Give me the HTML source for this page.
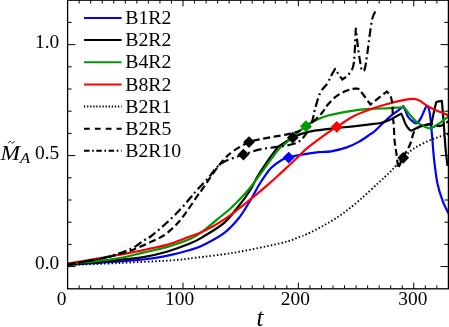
<!DOCTYPE html>
<html><head><meta charset="utf-8"><title>plot</title>
<style>html,body{margin:0;padding:0;background:#fff}svg{display:block}.sf{font-family:"Liberation Serif",serif}</style>
</head><body>
<svg width="449" height="327" viewBox="0 0 449 327">
<defs><filter id="g" x="0" y="0" width="449" height="327" filterUnits="userSpaceOnUse" color-interpolation-filters="sRGB"><feOffset dx="0" dy="0"/></filter></defs>
<rect width="449" height="327" fill="#fff"/>
<clipPath id="c"><rect x="67.6" y="0.2" width="380.8" height="288.6"/></clipPath>
<g clip-path="url(#c)" fill="none" stroke-width="2.20" stroke-linejoin="round">
<path d="M67.6 264.9C72.8 264.5 90.3 263.4 99.0 262.8C107.7 262.2 112.6 262.1 120.0 261.5C127.4 260.9 135.6 260.4 143.4 259.5C151.2 258.6 159.0 257.5 166.8 255.9C174.6 254.3 184.0 251.8 190.0 250.0C196.0 248.2 197.3 248.1 203.0 245.2C208.7 242.3 218.5 237.3 224.4 232.8C230.3 228.3 234.5 223.5 238.7 218.3C242.9 213.1 245.9 207.7 249.5 201.8C253.1 195.9 256.6 188.7 260.2 183.0C263.8 177.3 267.4 171.7 271.0 167.9C274.6 164.1 278.7 161.8 281.7 160.0C284.7 158.2 285.3 158.1 288.9 157.2C292.5 156.2 298.2 155.1 303.2 154.3C308.2 153.5 314.0 152.7 318.7 152.2C323.4 151.7 326.5 152.1 331.2 151.3C335.9 150.5 342.1 149.0 346.8 147.4C351.5 145.8 355.3 143.8 359.2 141.6C363.1 139.4 367.4 136.2 370.0 134.4C372.6 132.6 371.9 133.7 374.9 131.0C377.9 128.3 383.9 122.0 387.8 118.5C391.7 115.0 395.8 112.3 398.4 110.3C401.0 108.2 401.7 107.6 403.3 106.2C404.0 107.7 404.7 109.0 405.5 110.8C406.3 112.6 407.0 115.2 408.2 117.0C409.4 118.8 411.5 120.5 412.9 121.5C414.3 122.5 415.5 123.7 416.8 123.2C418.1 122.7 419.3 120.9 420.6 118.6C421.9 116.3 423.7 111.7 424.8 109.5C425.9 107.3 426.3 105.4 427.0 105.5C427.7 105.6 428.6 107.8 429.2 110.2C429.8 112.7 430.2 116.1 430.7 120.2C431.2 124.3 431.4 128.6 432.0 135.0C432.6 141.4 433.1 150.5 434.0 158.6C434.9 166.7 436.0 176.5 437.5 183.7C439.0 190.9 441.0 196.5 442.9 201.6C444.8 206.7 448.0 212.0 449.0 214.1" stroke="#0000ff"/>
<path d="M67.6 264.6C72.8 264.1 90.3 262.6 99.0 261.8C107.7 261.0 112.6 260.6 120.0 259.8C127.4 259.0 135.6 258.5 143.4 257.1C151.2 255.8 159.0 253.9 166.8 251.7C174.6 249.4 184.0 246.1 190.0 243.6C196.0 241.1 197.3 240.4 203.0 236.9C208.7 233.4 218.5 227.8 224.4 222.6C230.3 217.4 234.4 211.3 238.7 206.0C243.0 200.7 247.0 195.2 250.0 190.5C253.0 185.8 254.1 182.4 256.6 178.0C259.2 173.6 262.1 169.0 265.3 164.3C268.5 159.6 273.3 153.1 275.7 150.0C278.1 146.9 276.7 148.1 279.5 146.0C282.3 143.9 288.7 139.8 292.7 137.6C296.7 135.4 300.0 134.2 303.7 133.1C307.4 131.9 310.4 131.4 314.6 130.7C318.8 130.0 322.5 129.5 329.0 128.8C335.5 128.1 346.7 127.0 353.5 126.3C360.3 125.5 365.5 124.8 370.0 124.3C374.5 123.8 377.3 123.8 380.6 123.0C383.9 122.2 387.4 120.9 390.0 119.8C392.6 118.7 394.1 117.5 396.0 116.5C397.9 115.5 399.5 114.6 401.2 113.6C401.9 115.1 402.5 116.3 403.2 118.0C403.9 119.7 404.6 122.2 405.5 124.0C406.4 125.8 407.5 127.4 408.5 128.5C409.5 129.6 409.9 130.8 411.5 130.6C413.1 130.4 415.7 128.2 418.0 127.3C420.3 126.4 423.1 125.6 425.2 125.1C427.3 124.6 429.4 124.8 430.5 124.3C431.6 123.8 431.2 124.4 431.8 122.0C432.4 119.6 433.6 113.3 434.3 110.0C435.1 106.7 435.6 104.7 436.3 102.0C438.2 101.6 440.0 101.3 441.9 100.9C442.2 104.6 442.5 108.0 442.8 112.0C443.1 116.0 443.4 119.0 443.9 125.0C444.3 131.0 444.9 141.2 445.5 148.0C446.1 154.8 447.2 163.0 447.5 166.0" stroke="#000"/>
<path d="M67.6 264.2C72.8 263.6 90.3 261.8 99.0 260.8C107.7 259.8 112.6 259.4 120.0 258.0C127.4 256.6 135.6 254.4 143.4 252.6C151.2 250.8 159.0 249.3 166.8 247.1C174.6 244.8 183.9 241.8 190.0 239.1C196.1 236.4 199.0 233.9 203.5 230.7C208.0 227.4 212.4 223.3 216.9 219.6C221.4 215.9 225.9 212.6 230.4 208.5C234.9 204.4 240.0 199.1 243.8 195.0C247.6 190.9 249.2 189.1 253.1 184.0C257.0 178.9 263.2 170.0 267.4 164.3C271.6 158.6 275.2 153.4 278.1 150.0C281.0 146.6 280.4 148.0 285.0 144.0C289.6 140.0 300.5 130.2 305.7 126.2C310.9 122.2 312.2 122.0 316.1 120.2C320.0 118.4 322.8 116.9 329.0 115.3C335.2 113.7 346.7 111.7 353.5 110.6C360.3 109.5 363.9 109.3 370.0 108.9C376.1 108.5 384.8 108.5 390.0 108.2C395.2 107.9 399.1 107.3 401.5 107.3C403.9 107.2 403.1 106.7 404.5 107.9C405.9 109.2 407.7 112.4 409.9 114.8C412.1 117.2 414.9 120.5 417.5 122.5C420.1 124.5 423.0 126.0 425.2 127.0C427.4 128.0 428.5 128.7 430.5 128.3C432.5 127.9 435.2 126.2 437.4 124.8C439.6 123.4 441.6 121.6 443.5 120.2C445.4 118.8 448.1 117.0 449.0 116.3" stroke="#009a00"/>
<path d="M67.6 263.5C72.8 262.6 91.4 259.7 99.0 258.4C106.6 257.1 109.9 256.2 113.4 255.6C116.9 255.0 116.9 255.1 120.0 254.6C123.1 254.1 127.9 253.2 131.8 252.5C135.7 251.8 140.4 250.8 143.4 250.2C146.4 249.5 146.1 249.5 150.0 248.6C153.9 247.7 160.1 246.9 166.8 244.9C173.5 242.9 184.0 238.7 190.0 236.5C196.0 234.3 197.3 234.4 203.0 231.6C208.7 228.8 217.2 224.2 224.4 219.4C231.6 214.7 238.7 208.8 245.9 203.1C253.1 197.4 262.1 189.8 267.4 185.2C272.7 180.6 274.3 179.1 277.9 175.8C281.5 172.5 285.4 168.8 288.9 165.5C292.4 162.2 296.3 158.6 299.0 156.0C301.7 153.4 302.4 152.3 305.0 150.0C307.6 147.7 310.4 145.5 314.6 142.4C318.8 139.3 326.3 133.8 330.0 131.2C333.7 128.6 332.9 129.4 336.8 126.9C340.7 124.4 347.9 119.2 353.5 116.2C359.1 113.2 364.5 111.4 370.6 109.2C376.7 107.0 384.7 104.7 390.0 103.2C395.3 101.7 398.4 101.0 402.2 100.3C406.0 99.6 410.1 98.8 412.9 98.8C415.7 98.8 416.4 99.0 419.0 100.3C421.6 101.6 425.4 104.8 428.2 106.4C431.0 108.1 433.3 109.1 435.9 110.2C438.4 111.3 441.3 112.4 443.5 113.3C445.7 114.2 448.1 115.2 449.0 115.6" stroke="#ff0000"/>
<path d="M67.6 265.0C76.3 264.7 102.6 263.8 120.0 263.0C137.4 262.2 159.4 261.2 172.0 260.3C184.6 259.4 185.9 258.9 195.8 257.7C205.7 256.5 219.7 255.0 231.6 253.1C243.5 251.2 257.8 248.1 267.4 246.1C277.0 244.1 283.6 242.6 289.0 241.0C294.4 239.4 297.0 237.7 300.0 236.6C303.0 235.5 302.8 236.1 306.9 234.2C311.0 232.2 318.8 228.3 324.8 224.9C330.8 221.5 336.7 217.9 342.7 213.6C348.7 209.3 354.6 204.3 360.6 199.2C366.6 194.1 373.7 187.2 378.5 182.8C383.3 178.4 386.3 175.7 389.3 172.8C392.3 169.9 394.1 167.7 396.4 165.2C398.7 162.7 400.2 160.6 403.2 157.8C406.2 155.0 409.5 151.4 414.3 148.3C419.1 145.2 426.4 141.7 432.2 139.3C438.0 136.9 446.2 134.7 449.0 133.8" stroke="#000" stroke-dasharray="1.45 2.2" stroke-width="1.90"/>
<path d="M67.6 264.5C72.8 263.6 91.4 260.4 99.0 259.0C106.6 257.6 107.9 257.3 113.4 255.8C118.9 254.3 125.7 252.4 131.8 250.2C137.9 247.9 145.3 244.4 150.0 242.3C154.7 240.2 157.1 239.2 160.0 237.6C162.9 236.0 164.2 235.5 167.2 233.0C170.2 230.5 174.7 226.5 178.2 222.6C181.7 218.7 184.8 214.1 188.0 209.7C191.2 205.3 194.8 199.6 197.2 196.2C199.5 192.8 200.2 192.2 202.1 189.5C204.0 186.8 205.7 184.1 208.4 180.2C211.1 176.3 215.7 169.7 218.5 166.0C221.3 162.3 223.0 160.3 225.5 157.8C228.0 155.3 229.4 153.6 233.3 151.0C237.2 148.4 244.0 144.2 249.0 142.1C254.0 140.0 258.7 139.6 263.1 138.7C267.5 137.8 271.4 137.2 275.6 136.4C279.8 135.6 284.2 135.0 288.1 134.1C292.0 133.2 295.1 132.8 299.0 131.0C302.9 129.2 308.0 125.5 311.4 123.0C314.8 120.5 317.2 118.0 319.2 116.0C321.2 114.0 322.0 112.8 323.4 111.0C324.8 109.2 325.2 107.6 327.3 105.2C329.4 102.8 332.9 98.9 335.9 96.6C338.9 94.3 342.3 92.5 345.2 91.2C348.1 89.9 350.8 89.2 353.0 88.8C355.2 88.4 356.7 88.8 358.5 88.8C359.8 90.4 360.4 90.9 362.4 93.5C364.4 96.1 367.8 100.8 370.5 104.5C373.0 102.5 375.4 100.6 378.1 98.4C380.8 96.2 383.9 93.8 386.8 91.5C388.0 93.0 389.6 93.9 390.5 96.0C391.4 98.1 391.9 100.6 392.3 104.0C392.7 107.4 392.6 112.6 392.8 116.2C393.1 119.8 393.5 121.5 393.8 125.5C394.1 129.5 394.1 135.5 394.5 140.2C394.9 144.9 395.8 149.0 396.4 153.7C397.0 158.4 397.6 163.6 398.2 168.5C399.8 164.8 401.0 161.5 403.0 157.5C405.0 153.5 408.2 148.8 410.0 144.5C411.8 140.2 412.5 134.9 414.0 132.0C415.5 129.1 417.2 128.2 419.0 127.0C420.8 125.8 422.8 125.5 425.0 125.0C427.2 124.5 429.5 123.8 432.0 124.0C434.5 124.2 437.2 126.5 440.0 126.0C442.8 125.5 447.5 121.8 449.0 121.0" stroke="#000" stroke-dasharray="7 3.6"/>
<path d="M67.6 264.5C72.8 263.6 91.4 260.3 99.0 258.8C106.6 257.3 107.9 257.0 113.4 255.3C118.9 253.6 126.8 251.0 131.8 248.6C136.8 246.2 140.4 242.7 143.4 240.8C146.4 238.9 148.1 238.3 150.0 237.0C151.9 235.7 151.8 235.6 154.9 233.0C158.0 230.4 164.1 225.3 168.4 221.3C172.7 217.3 176.7 213.3 180.6 209.1C184.5 204.9 188.9 199.5 191.7 196.2C194.5 192.9 194.7 192.6 197.5 189.5C200.3 186.4 205.3 181.4 208.4 177.8C211.5 174.2 213.2 170.8 216.0 168.0C218.8 165.2 222.1 162.8 225.5 161.0C228.9 159.2 233.4 158.1 236.4 157.0C239.4 155.9 239.6 155.9 243.5 154.6C247.4 153.3 254.7 150.7 260.0 149.4C265.4 148.2 270.9 147.8 275.6 147.1C280.3 146.4 284.5 146.0 288.1 145.2C291.7 144.4 294.8 143.8 297.4 142.4C300.0 141.0 301.9 139.1 303.7 137.0C305.5 134.9 306.8 132.8 308.3 130.0C309.8 127.2 311.4 123.5 312.5 120.0C313.6 116.5 313.7 113.5 315.0 109.0C316.3 104.5 318.2 97.0 320.3 92.7C322.4 88.4 325.5 86.3 327.3 83.4C329.1 80.5 330.0 77.9 331.3 75.5C332.6 73.1 333.8 71.0 335.1 68.8C336.4 70.9 337.9 73.3 339.1 75.1C340.3 76.9 341.3 78.0 342.4 79.5C344.4 77.9 346.5 76.9 348.3 74.8C350.1 72.7 352.0 70.3 353.0 67.0C354.0 63.7 354.0 61.4 354.5 55.0C355.0 48.6 355.4 37.4 355.8 28.6C356.7 36.2 357.5 44.3 358.5 51.3C359.5 58.3 360.6 64.2 361.6 70.6C362.6 70.1 363.7 72.4 364.7 69.2C365.7 66.0 366.4 59.5 367.6 51.3C368.8 43.1 370.5 27.1 372.0 20.1C373.5 13.1 375.8 11.2 376.5 9.4" stroke="#000" stroke-dasharray="8.5 3.4 1.9 3.5"/>
</g>
<path d="M243.4 148.7L249.3 154.6L243.4 160.5L237.5 154.6Z" fill="#000"/>
<path d="M249.0 136.2L254.9 142.1L249.0 148.0L243.1 142.1Z" fill="#000"/>
<path d="M292.7 131.8L298.6 137.7L292.7 143.6L286.8 137.7Z" fill="#000"/>
<path d="M403.2 151.9L409.1 157.8L403.2 163.7L397.3 157.8Z" fill="#000"/>
<path d="M288.7 151.7L294.6 157.6L288.7 163.5L282.8 157.6Z" fill="#0000ff"/>
<path d="M305.9 120.3L311.8 126.2L305.9 132.1L300.0 126.2Z" fill="#009a00"/>
<path d="M336.8 120.9L342.7 126.8L336.8 132.7L330.9 126.8Z" fill="#ff0000"/>
<rect x="67.60" y="0.20" width="380.80" height="288.60" fill="none" stroke="#000" stroke-width="1.3"/>
<path d="M79.14 288.80v-3.4M79.14 0.20v3.4M90.68 288.80v-3.4M90.68 0.20v3.4M102.22 288.80v-3.4M102.22 0.20v3.4M113.76 288.80v-3.4M113.76 0.20v3.4M125.30 288.80v-3.4M125.30 0.20v3.4M136.84 288.80v-3.4M136.84 0.20v3.4M148.38 288.80v-3.4M148.38 0.20v3.4M159.92 288.80v-3.4M159.92 0.20v3.4M171.45 288.80v-3.4M171.45 0.20v3.4M182.99 288.80v-6.1M182.99 0.20v6.1M194.53 288.80v-3.4M194.53 0.20v3.4M206.07 288.80v-3.4M206.07 0.20v3.4M217.61 288.80v-3.4M217.61 0.20v3.4M229.15 288.80v-3.4M229.15 0.20v3.4M240.69 288.80v-3.4M240.69 0.20v3.4M252.23 288.80v-3.4M252.23 0.20v3.4M263.77 288.80v-3.4M263.77 0.20v3.4M275.31 288.80v-3.4M275.31 0.20v3.4M286.85 288.80v-3.4M286.85 0.20v3.4M298.39 288.80v-6.1M298.39 0.20v6.1M309.93 288.80v-3.4M309.93 0.20v3.4M321.47 288.80v-3.4M321.47 0.20v3.4M333.01 288.80v-3.4M333.01 0.20v3.4M344.55 288.80v-3.4M344.55 0.20v3.4M356.08 288.80v-3.4M356.08 0.20v3.4M367.62 288.80v-3.4M367.62 0.20v3.4M379.16 288.80v-3.4M379.16 0.20v3.4M390.70 288.80v-3.4M390.70 0.20v3.4M402.24 288.80v-3.4M402.24 0.20v3.4M413.78 288.80v-6.1M413.78 0.20v6.1M425.32 288.80v-3.4M425.32 0.20v3.4M436.86 288.80v-3.4M436.86 0.20v3.4M67.60 266.60h7.8M448.40 266.60h-7.8M67.60 244.40h4.0M448.40 244.40h-4.0M67.60 222.20h4.0M448.40 222.20h-4.0M67.60 200.00h4.0M448.40 200.00h-4.0M67.60 177.80h4.0M448.40 177.80h-4.0M67.60 155.60h7.8M448.40 155.60h-7.8M67.60 133.40h4.0M448.40 133.40h-4.0M67.60 111.20h4.0M448.40 111.20h-4.0M67.60 89.00h4.0M448.40 89.00h-4.0M67.60 66.80h4.0M448.40 66.80h-4.0M67.60 44.60h7.8M448.40 44.60h-7.8M67.60 22.40h4.0M448.40 22.40h-4.0" stroke="#000" stroke-width="1.0" fill="none"/>
<g class="sf" font-size="19.4" fill="#000" filter="url(#g)">
<text x="61.6" y="305.3" text-anchor="middle">0</text>
<text x="179.6" y="305.3" text-anchor="middle">100</text>
<text x="295.4" y="305.3" text-anchor="middle">200</text>
<text x="412.8" y="305.3" text-anchor="middle">300</text>
<text x="59.3" y="268.8" text-anchor="end">0.0</text>
<text x="59.3" y="158.5" text-anchor="end">0.5</text>
<text x="59.3" y="47.8" text-anchor="end">1.0</text>
<path d="M84 18.0H121.6" stroke="#0000ff" stroke-width="2.00" fill="none"/>
<text x="125.2" y="23.8" font-size="19.8">B1R2</text>
<path d="M84 40.1H121.6" stroke="#000" stroke-width="2.00" fill="none"/>
<text x="125.2" y="46.1" font-size="19.8">B2R2</text>
<path d="M84 62.3H121.6" stroke="#009a00" stroke-width="2.00" fill="none"/>
<text x="125.2" y="68.3" font-size="19.8">B4R2</text>
<path d="M84 84.4H121.6" stroke="#ff0000" stroke-width="2.00" fill="none"/>
<text x="125.2" y="90.6" font-size="19.8">B8R2</text>
<path d="M84 106.6H121.6" stroke="#000" stroke-width="2.00" stroke-dasharray="1.3 1.78" fill="none"/>
<text x="125.2" y="112.9" font-size="19.8">B2R1</text>
<path d="M84 128.7H121.6" stroke="#000" stroke-width="2.00" stroke-dasharray="5.8 5.05" fill="none"/>
<text x="125.2" y="135.2" font-size="19.8">B2R5</text>
<path d="M84 150.8H121.6" stroke="#000" stroke-width="2.00" stroke-dasharray="5.5 2.6 1.7 2.5" fill="none"/>
<text x="125.2" y="157.4" font-size="19.8">B2R10</text>
</g>
<g filter="url(#g)"><text class="sf" x="256.6" y="326" font-style="italic" font-size="25">t</text></g>
<g class="sf" font-style="italic" fill="#000" filter="url(#g)"><text x="0.6" y="159.7" font-size="20.4" textLength="19.6" lengthAdjust="spacingAndGlyphs">M</text><text x="20.0" y="162.7" font-size="14" textLength="10.2" lengthAdjust="spacingAndGlyphs">A</text><path d="M8.1 143.3C9.2 140.6 10.6 141.2 11.3 142.3C12.0 143.4 13.4 143.6 14.4 141.2" fill="none" stroke="#000" stroke-width="0.9"/></g>
</svg>
</body></html>
